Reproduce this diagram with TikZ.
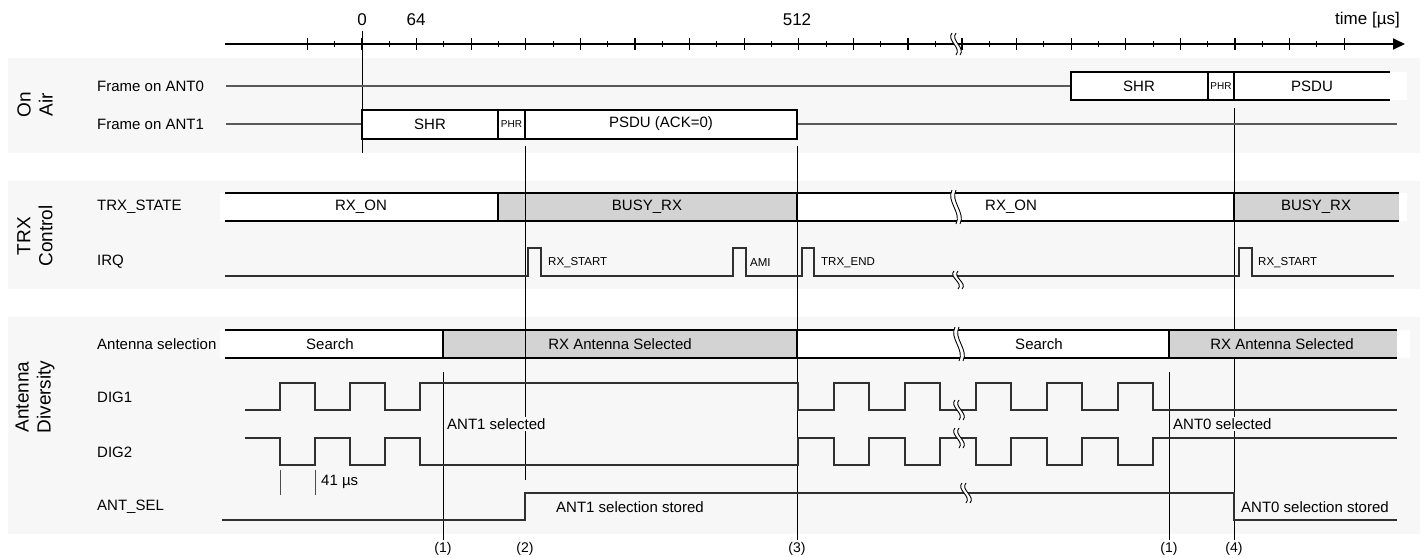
\documentclass[tikz,border=0pt]{standalone}
\usepackage{fontspec}
\setmainfont{Liberation Sans}
\usetikzlibrary{arrows.meta}
\definecolor{panel}{HTML}{F7F7F7}
\definecolor{busy}{HTML}{D3D3D3}
\definecolor{wire}{HTML}{303030}
\tikzstyle{grp}=[rotate=90, align=center, inner sep=0, font=\fontsize{19}{22}\selectfont]
\tikzstyle{rowlbl}=[anchor=west, inner sep=0, font=\fontsize{15}{17}\selectfont]
\tikzstyle{txt}=[inner sep=0, font=\fontsize{15}{17}\selectfont]
\tikzstyle{tiny}=[inner sep=0, font=\fontsize{11.5}{13}\selectfont]
\tikzstyle{axlbl}=[inner sep=0, font=\fontsize{17}{19}\selectfont]
\tikzstyle{sig}=[draw=wire, line width=1.4pt]
\tikzstyle{vln}=[draw=black, line width=0.9pt]
\tikzstyle{edge}=[draw=black, line width=1.5pt]
% break mark: x, y, half height
\newcommand{\zbrk}[3]{%
  \fill[white] ({#1-3},{#2-#3}) .. controls ({#1-9},{#2-#3/3}) and ({#1+7},{#2+#3/3}) .. ({#1+1},{#2+#3})
    -- ({#1+5},{#2+#3}) .. controls ({#1+11},{#2+#3/3}) and ({#1-5},{#2-#3/3}) .. ({#1+1},{#2-#3}) -- cycle;
  \draw[line width=0.9pt] ({#1-3},{#2-#3}) .. controls ({#1-9},{#2-#3/3}) and ({#1+7},{#2+#3/3}) .. ({#1+1},{#2+#3});
  \draw[line width=0.9pt] ({#1+1},{#2-#3}) .. controls ({#1-5},{#2-#3/3}) and ({#1+11},{#2+#3/3}) .. ({#1+5},{#2+#3});}

\begin{document}
\begin{tikzpicture}[x=1pt, y=-1pt]
\useasboundingbox (0,0) rectangle (1427,557);
% panels
\fill[panel] (8,58) rectangle (1420,153);
\fill[panel] (8,181) rectangle (1420,289);
\fill[panel] (8,317) rectangle (1420,534);
\node[grp] (onair) at (35,105) {On\\Air};
\node[grp] (trxctl) at (35,236) {TRX\\Control};
\node[grp] (antdiv) at (35,397) {Antenna\\Diversity};

% time axis
\draw[line width=1.8pt, -{Triangle[length=12pt, width=11pt]}] (225,44) -- (1405,44);
\foreach \i in {-2,0,...,20} \draw[line width=1.2pt] ({362+27.3*\i},38) -- ({362+27.3*\i},50);
\foreach \i in {-1,1,...,21} \draw[line width=1pt] ({362+27.3*\i},41) -- ({362+27.3*\i},47);
\foreach \j in {0,2,...,14} \draw[line width=1.2pt] ({962+27.3*\j},38) -- ({962+27.3*\j},50);
\foreach \j in {1,3,...,13} \draw[line width=1pt] ({962+27.3*\j},41) -- ({962+27.3*\j},47);
\node[axlbl] (t0) at (362,20) {0};
\node[axlbl] (t64) at (416,20) {64};
\node[axlbl] (t512) at (797,20) {512};
\node[axlbl, anchor=east] (tunit) at (1400,20) {time [µs]};

% markers
\draw[vln] (362,31) -- (362,153);
\draw[vln] (443,372) -- (443,540);
\draw[vln] (525,146) -- (525,480);
\draw[vln] (797,146) -- (797,540);
\draw[vln] (1169,372) -- (1169,540);
\draw[vln] (1234,108) -- (1234,540);

% on air
\node[rowlbl] (lant0) at (97,86) {Frame on ANT0};
\node[rowlbl] (lant1) at (97,124) {Frame on ANT1};
\draw[sig, draw=gray!70!black, line width=1.2pt] (226,86) -- (1071,86);
\fill[white] (1071,72) rectangle (1407,100);
\draw[edge] (1390,72) -- (1071,72) -- (1071,100) -- (1390,100);
\draw[edge] (1208,72) -- (1208,100) (1234,72) -- (1234,100);
\node[txt] (shr0) at (1139,86) {SHR};
\node[tiny, font=\fontsize{10}{12}\selectfont] (phr0) at (1221,86) {PHR};
\node[txt] (psdu0) at (1312,86) {PSDU};
\draw[sig, draw=gray!70!black, line width=1.2pt] (226,124) -- (362,124) (797,124) -- (1397,124);
\draw[edge, fill=white] (362,110) rectangle (797,139);
\draw[edge] (498,110) -- (498,139) (525,110) -- (525,139);
\node[txt] (shr1) at (430,124) {SHR};
\node[tiny, font=\fontsize{10}{12}\selectfont] (phr1) at (511.5,124) {PHR};
\node[txt] (psdu1) at (661,124) {PSDU (ACK=0)};

% trx control
\node[rowlbl] (ltrx) at (97,207) {TRX\_STATE};
\node[rowlbl] (lirq) at (97,262) {IRQ};
\fill[white] (220,193) rectangle (498,221);
\fill[busy] (498,193) rectangle (797,221);
\fill[white] (797,193) rectangle (1234,221);
\fill[busy] (1234,193) rectangle (1399,221);
\fill[white] (1399,193) rectangle (1407,221);
\draw[vln] (525,193) -- (525,221);
\draw[edge] (225,193) -- (1399,193) (225,221) -- (1399,221);
\draw[edge] (498,193) -- (498,221) (797,193) -- (797,221) (1234,193) -- (1234,221);
\node[txt] (rxon1) at (361,207) {RX\_ON};
\node[txt] (busy1) at (647,207) {BUSY\_RX};
\node[txt] (rxon2) at (1011,207) {RX\_ON};
\node[txt] (busy2) at (1316,207) {BUSY\_RX};
\draw[sig] (225,276) -- (528,276) -- (528,248) -- (541,248) -- (541,276) -- (733,276) -- (733,248) -- (746,248) -- (746,276)
  -- (802,276) -- (802,248) -- (814,248) -- (814,276) -- (1239,276) -- (1239,248) -- (1252,248) -- (1252,276) -- (1394,276);
\node[tiny, anchor=west] (irq1) at (548,263) {RX\_START};
\node[tiny, anchor=west] (irq2) at (750,263) {AMI};
\node[tiny, anchor=west] (irq3) at (821,263) {TRX\_END};
\node[tiny, anchor=west] (irq4) at (1258,263) {RX\_START};

% antenna diversity
\node[rowlbl] (lsel) at (97,344) {Antenna selection};
\node[rowlbl] (ldig1) at (97,397) {DIG1};
\node[rowlbl] (ldig2) at (97,452) {DIG2};
\node[rowlbl] (lantsel) at (97,507) {ANT\_SEL};
\fill[white] (220,330) rectangle (443,358);
\fill[busy] (443,330) rectangle (797,358);
\fill[white] (797,330) rectangle (1169,358);
\fill[busy] (1169,330) rectangle (1397,358);
\fill[white] (1397,330) rectangle (1410,358);
\draw[vln] (525,330) -- (525,358);
\draw[edge] (225,330) -- (1397,330) (225,358) -- (1397,358);
\draw[edge] (443,330) -- (443,358) (797,330) -- (797,358) (1169,330) -- (1169,358);
\node[txt] (srch1) at (330,344) {Search};
\node[txt] (rxsel1) at (620,344) {RX Antenna Selected};
\node[txt] (srch2) at (1039,344) {Search};
\node[txt] (rxsel2) at (1282,344) {RX Antenna Selected};
\draw[sig] (245,410) -- (280,410) -- (280,383) -- (315,383) -- (315,410) -- (350,410) -- (350,383) -- (385,383) -- (385,410)
  -- (420,410) -- (420,383) -- (798,383) -- (798,410) -- (834,410) -- (834,383) -- (869,383) -- (869,410) -- (905,410)
  -- (905,383) -- (940,383) -- (940,410) -- (976,410) -- (976,383) -- (1011,383) -- (1011,410) -- (1047,410) -- (1047,383)
  -- (1082,383) -- (1082,410) -- (1118,410) -- (1118,383) -- (1153,383) -- (1153,410) -- (1397,410);
\draw[sig] (245,438) -- (280,438) -- (280,465) -- (315,465) -- (315,438) -- (350,438) -- (350,465) -- (385,465) -- (385,438)
  -- (420,438) -- (420,465) -- (798,465) -- (798,438) -- (834,438) -- (834,465) -- (869,465) -- (869,438) -- (905,438)
  -- (905,465) -- (940,465) -- (940,438) -- (976,438) -- (976,465) -- (1011,465) -- (1011,438) -- (1047,438) -- (1047,465)
  -- (1082,465) -- (1082,438) -- (1118,438) -- (1118,465) -- (1153,465) -- (1153,438) -- (1397,438);
\draw[sig] (222,520) -- (525,520) -- (525,493) -- (1234,493) -- (1234,520) -- (1397,520);
\node[txt, anchor=west, fill=panel, inner sep=1pt] (ant1ok) at (446,424) {ANT1 selected};
\node[txt, anchor=west, fill=panel, inner sep=1pt] (ant0ok) at (1172,424) {ANT0 selected};
\node[txt, anchor=west] (ant1st) at (556,507) {ANT1 selection stored};
\node[txt, anchor=west] (ant0st) at (1241,507) {ANT0 selection stored};
\draw[vln, draw=gray!60!black] (280,470) -- (280,495) (315,470) -- (315,495);
\node[txt, anchor=west] (dt) at (321,482) {41 µs};
\node[txt, font=\fontsize{14}{16}\selectfont] (m1) at (443,549) {(1)};
\node[txt, font=\fontsize{14}{16}\selectfont] (m2) at (525,549) {(2)};
\node[txt, font=\fontsize{14}{16}\selectfont] (m3) at (797,549) {(3)};
\node[txt, font=\fontsize{14}{16}\selectfont] (m1b) at (1169,549) {(1)};
\node[txt, font=\fontsize{14}{16}\selectfont] (m4) at (1234,549) {(4)};

% breaks
\zbrk{955}{44}{11}
\zbrk{955}{207}{17}
\zbrk{957}{280}{9}
\zbrk{958}{344}{17}
\zbrk{958}{410}{10}
\zbrk{958}{438}{10}
\zbrk{965}{493}{10}
\end{tikzpicture}
\end{document}
